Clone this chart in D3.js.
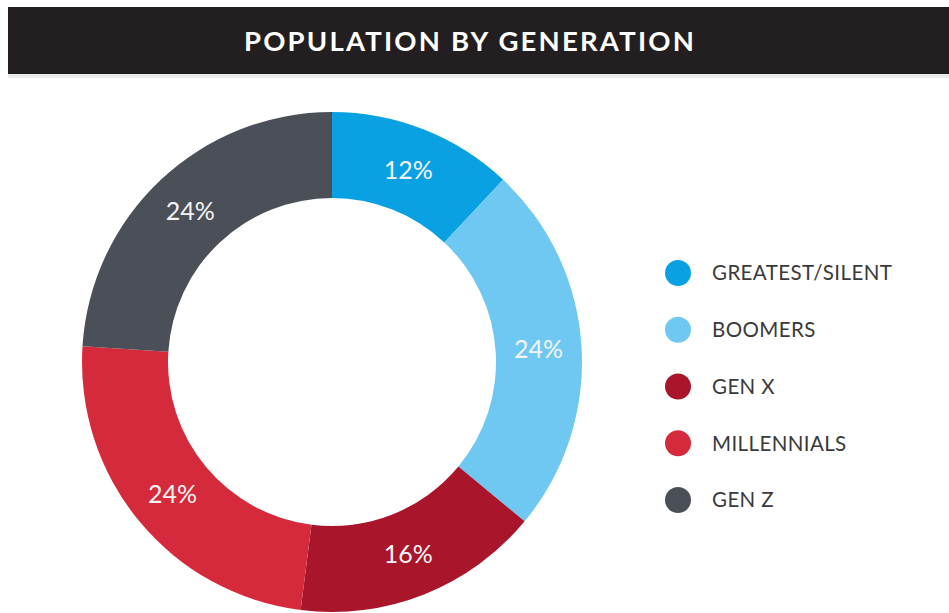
<!DOCTYPE html>
<html>
<head>
<meta charset="utf-8">
<script src="https://cdn.jsdelivr.net/npm/d3@7"></script>
<style>
  html, body { margin: 0; padding: 0; background: #ffffff; }
  svg { display: block; }
</style>
</head>
<body>
<svg id="chart" width="949" height="613"></svg>
<script>
const title = "POPULATION BY GENERATION";
const categories = ["GREATEST/SILENT", "BOOMERS", "GEN X", "MILLENNIALS", "GEN Z"];
const values = [12, 24, 16, 24, 24];
const colors = ["#0aa1e3", "#6fc8f2", "#a9152b", "#d42a3b", "#4b4f58"];

const svg = d3.select("#chart");
const W = 949, H = 613;

// title bar
svg.append("rect").attr("x", 8).attr("y", 74).attr("width", W - 8).attr("height", 4).attr("fill", "#ececec");
svg.append("rect").attr("x", 8).attr("y", 7).attr("width", W - 8).attr("height", 67).attr("fill", "#231f20");
svg.append("text")
  .attr("x", 470).attr("y", 51)
  .attr("text-anchor", "middle")
  .attr("fill", "#ffffff")
  .attr("font-family", "Lato, 'Open Sans', sans-serif")
  .attr("font-weight", 700)
  .attr("font-size", 27.5)
  .attr("letter-spacing", 2.2)
  .text(title);

// donut
const cx = 332, cy = 362, outerR = 250, innerR = 164;
const data = categories.map((c, i) => ({ cat: c, value: values[i], color: colors[i] }));
const pie = d3.pie().value(d => d.value).sort(null);
const arc = d3.arc().innerRadius(innerR).outerRadius(outerR);
const g = svg.append("g").attr("transform", `translate(${cx},${cy})`);
const arcs = pie(data);
g.selectAll("path").data(arcs).join("path")
  .attr("d", arc)
  .attr("fill", d => d.data.color);
g.selectAll("text").data(arcs).join("text")
  .attr("transform", d => `translate(${arc.centroid(d)})`)
  .attr("text-anchor", "middle")
  .attr("dy", "0.36em")
  .attr("fill", "#f4f4f4")
  .attr("font-family", "Lato, 'Open Sans', sans-serif")
  .attr("font-size", 25)
  .text(d => d.data.value + "%");

// legend
const legendY = d3.scalePoint().domain(categories).range([273, 500]);
const lg = svg.append("g");
const items = lg.selectAll("g").data(data).join("g")
  .attr("transform", d => `translate(678,${legendY(d.cat)})`);
items.append("circle").attr("r", 13).attr("fill", d => d.color);
items.append("text")
  .attr("x", 34).attr("dy", "0.36em")
  .attr("fill", "#3a3a3a")
  .attr("font-family", "Lato, 'Open Sans', sans-serif")
  .attr("font-size", 20.5)
  .attr("letter-spacing", 0.4)
  .text(d => d.cat);
</script>
</body>
</html>
